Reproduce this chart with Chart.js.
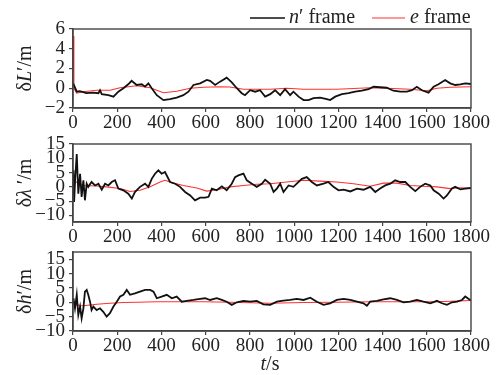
<!DOCTYPE html>
<html><head><meta charset="utf-8">
<script src="https://cdn.jsdelivr.net/npm/chart.js@4.4.0/dist/chart.umd.min.js"></script>
<style>
html,body{margin:0;padding:0;background:#fff;}
#wrap{position:relative;width:497px;height:375px;background:#fff;}
#wrap canvas{position:absolute;left:0;top:0;}
</style></head><body>
<div id="wrap">
<canvas id="c1" width="497" height="375"></canvas>
<canvas id="c2" width="497" height="375"></canvas>
<canvas id="c3" width="497" height="375"></canvas>
</div>
<script>
// ---------- data ----------
const xTicks = [0,200,400,600,800,1000,1200,1400,1600,1800];
const yTicksL = [-2,0,2,4,6];
const yTicksLam = [-10,-5,0,5,10,15];
const yTicksH = [-10,-5,0,5,10,15];

// δL' panel
const tL_n = [0,5,17,30,47,60,90,115,122,130,160,183,205,228,250,265,288,311,326,341,356,379,409,439,469,499,522,545,575,605,620,643,665,695,718,741,763,778,801,824,846,869,892,914,937,959,982,997,1020,1043,1065,1088,1118,1148,1163,1186,1216,1246,1276,1306,1337,1359,1389,1419,1449,1480,1510,1533,1555,1578,1608,1631,1653,1683,1706,1729,1752,1774,1800];
const vL_n = [0.5,0.3,-0.35,-0.3,-0.4,-0.5,-0.45,-0.5,-0.2,-0.6,-0.7,-0.85,-0.35,0,0.4,0.75,0.33,0.4,0.16,0.5,0,-0.7,-1.2,-1.1,-0.95,-0.7,-0.35,0.33,0.5,0.84,0.75,0.33,0.67,1.07,0.6,0,-0.5,-0.7,-0.2,-0.35,-0.2,-0.85,-0.6,-0.2,-0.7,-0.1,-0.7,-0.35,-0.85,-1.2,-1.2,-1.0,-0.95,-1.1,-1.2,-0.85,-0.6,-0.5,-0.35,-0.25,-0.1,0.15,0.1,0.05,-0.25,-0.35,-0.35,-0.2,0.15,-0.2,-0.45,0.15,0.4,0.84,0.5,0.33,0.4,0.5,0.43];
const tL_e = [0,4,17,47,107,167,213,288,349,409,469,530,590,665,710,771,892,967,1043,1193,1344,1419,1525,1600,1646,1706,1800];
const vL_e = [5.3,0,-0.5,-0.35,-0.2,-0.2,0.05,0.25,0.05,-0.45,-0.3,0,0.1,0.15,0.12,-0.1,-0.1,0,-0.1,-0.1,0.05,0,-0.1,-0.25,0,0.1,0.15];

// δλ' panel
const tLam_n = [0,2,5,10,17,24,32,39,47,54,62,69,84,100,115,130,145,160,175,190,205,228,250,266,280,303,326,341,356,371,386,401,416,439,462,484,507,530,552,575,598,613,628,650,673,695,718,733,748,771,786,809,831,854,869,892,907,922,937,952,975,997,1012,1035,1057,1080,1103,1133,1155,1178,1201,1224,1254,1284,1314,1344,1367,1389,1412,1435,1457,1480,1503,1525,1548,1570,1593,1616,1631,1654,1676,1691,1714,1729,1752,1774,1800];
const vLam_n = [0,5.8,-5.3,3,11.5,-2.4,4.6,-3.5,2.3,-4.7,1.1,0,1.7,0.5,1.1,-1,1.1,0.5,1.7,2.3,-0.6,-1.2,-2.4,-4.1,-1.8,0,1.1,0,2.8,4.6,5.8,4.6,5.2,1.7,1.1,0,-1.8,-3,-4.7,-3.8,-3.8,-3.5,-0.6,-1.2,0.2,-1.2,1.1,3.4,4,4.6,2.3,1.1,0,1.1,2.5,1.1,-1.8,-0.6,1.1,-1.8,0.5,0,1.1,2.8,3.4,1.7,0.5,1.1,1.7,0,-1.2,-1,-1.6,-0.6,-1,0,-1.8,-0.6,0.5,1.1,2.3,1.7,1.7,0,-1.5,0,1.1,0.5,-1.2,-2.4,-4.1,-3,-0.6,0,-0.9,-0.6,-0.4];
const tLam_e = [0,8,17,47,107,152,213,258,303,349,394,416,454,499,560,605,650,711,771,831,892,967,1043,1118,1193,1269,1344,1404,1465,1525,1585,1646,1706,1737,1800];
const vLam_e = [0,1.5,1.7,0.5,0.3,0,-0.6,-1.6,-1.2,0,1.7,2.3,1.3,0.5,-0.4,-1.5,-1,0,0.5,0.9,1.1,1.7,2.3,2.0,1.7,1.1,0.2,1.3,1.3,0.5,0.2,0,-0.6,-0.3,-0.4];

// δh' panel
const tH_n = [0,2,9,17,24,32,39,47,54,62,69,77,84,92,107,122,137,152,167,183,198,213,228,243,258,280,303,326,349,364,379,401,424,447,469,492,515,545,575,598,620,650,673,695,718,741,771,801,831,861,892,922,952,982,1012,1043,1073,1103,1133,1163,1193,1224,1254,1284,1314,1329,1344,1374,1404,1435,1465,1495,1525,1555,1585,1616,1646,1669,1691,1714,1737,1759,1774,1800];
const vH_n = [0,1.4,-2.1,2.6,-4.4,-1.5,-5.6,-2.1,3.7,4.3,2.6,0.2,-2.7,-1.5,-2.7,-2.1,-3.3,-5,-3.8,-1.5,0.2,2,2.6,4.3,2.6,3.1,3.7,4.3,4.3,3.7,1.4,2,2.6,1.4,2,0.2,0.5,0.8,1.2,1.4,0.8,1.4,0.8,0.2,-0.9,0,0.5,0.2,0.5,-0.7,-0.9,0.2,0.6,0.8,1.2,0.8,1.6,0.2,-0.9,-0.35,0.8,1.2,0.8,0.2,-0.35,-1.2,0.2,0.5,1.0,1.4,0.8,0,0.2,0.8,0.2,-0.35,0.5,-0.35,-0.9,0,0.2,0.8,2,0.6];
const tH_e = [0,10,17,32,47,107,167,228,288,379,469,590,711,892,1043,1193,1344,1495,1646,1800];
const vH_e = [0,-0.7,-0.9,-1.1,-1.2,-0.7,-0.35,-0.1,0,0.2,0.2,0.2,0,-0.35,-0.1,0,0.2,0.2,0.2,0.6];

// ---------- helpers ----------
const SERIF = '"Liberation Serif", "Times New Roman", serif';
const BLACK = '#111111';
const RED = '#ff3030';
const AXIS = '#444444';

function pts(t, v){ return t.map((x,i)=>({x:x, y:v[i]})); }

function richWidth(ctx, parts, size){
  let w = 0;
  parts.forEach(p=>{ ctx.font = (p.it?'italic ':'') + size + 'px ' + SERIF; w += ctx.measureText(p.t).width; });
  return w;
}
function drawRich(ctx, parts, x, y, size){
  let cx = x;
  parts.forEach(p=>{
    ctx.font = (p.it?'italic ':'') + size + 'px ' + SERIF;
    ctx.fillText(p.t, cx, y);
    cx += ctx.measureText(p.t).width;
  });
  return cx;
}

function framePlugin(yTitle, extra){
  return {
    id: 'frame',
    afterDraw(chart){
      const ctx = chart.ctx, a = chart.chartArea;
      ctx.save();
      ctx.strokeStyle = AXIS; ctx.lineWidth = 1.4;
      ctx.strokeRect(a.left, a.top, a.right - a.left, a.bottom - a.top);
      ctx.fillStyle = '#222';
      ctx.textBaseline = 'middle';
      const size = 20;
      const w = richWidth(ctx, yTitle, size);
      ctx.translate(26, (a.top + a.bottom)/2);
      ctx.rotate(-Math.PI/2);
      drawRich(ctx, yTitle, -w/2, 0, size);
      ctx.restore();
      if (extra) extra(chart);
    }
  };
}

function makeChart(id, tn, vn, te, ve, yMin, yMax, yTicks, padTop, padBottom, yTitle, extra){
  return new Chart(document.getElementById(id), {
    type: 'line',
    data: {
      datasets: [
        { data: pts(te, ve), borderColor: RED, borderWidth: 1.1, pointRadius: 0, tension: 0, order: 2 },
        { data: pts(tn, vn), borderColor: BLACK, borderWidth: 1.8, pointRadius: 0, tension: 0, order: 1 }
      ]
    },
    options: {
      responsive: false, animation: false, events: [],
      layout: { padding: { left: 0, right: 26, top: padTop, bottom: padBottom } },
      plugins: { legend: { display: false }, tooltip: { enabled: false } },
      scales: {
        x: {
          type: 'linear', min: 0, max: 1800,
          afterBuildTicks: s => { s.ticks = xTicks.map(v=>({value:v})); },
          afterFit: s => { s.height = 22; },
          grid: { display: true, drawOnChartArea: false, drawTicks: true, tickLength: 4, color: AXIS, lineWidth: 1.2 },
          border: { display: true, color: AXIS, width: 1.4 },
          ticks: { autoSkip: false, maxRotation: 0, padding: 0, color: '#222', font: { family: SERIF, size: 19 },
                   callback: v => String(v) }
        },
        y: {
          type: 'linear', min: yMin, max: yMax,
          afterBuildTicks: s => { s.ticks = yTicks.map(v=>({value:v})); },
          afterFit: s => { s.width = 73; },
          grid: { display: true, drawOnChartArea: false, drawTicks: true, tickLength: 4, color: AXIS, lineWidth: 1.2 },
          border: { display: true, color: AXIS, width: 1.4 },
          ticks: { autoSkip: false, padding: 4, color: '#222', font: { family: SERIF, size: 19 },
                   callback: v => String(v).replace('-', '\u2212') }
        }
      }
    },
    plugins: [framePlugin(yTitle, extra)]
  });
}

function legend(chart){
  const ctx = chart.ctx;
  ctx.save();
  ctx.textBaseline = 'middle';
  ctx.fillStyle = '#222';
  const y = 18;
  ctx.lineWidth = 1.6; ctx.strokeStyle = BLACK;
  ctx.beginPath(); ctx.moveTo(250, y); ctx.lineTo(285, y); ctx.stroke();
  drawRich(ctx, [{t:'n',it:true},{t:'\u2032 frame',it:false}], 289, y, 20);
  ctx.lineWidth = 1.2; ctx.strokeStyle = RED;
  ctx.beginPath(); ctx.moveTo(372, y); ctx.lineTo(405, y); ctx.stroke();
  drawRich(ctx, [{t:'e',it:true},{t:' frame',it:false}], 410, y, 20);
  ctx.restore();
}
function xTitle(chart){
  const ctx = chart.ctx, a = chart.chartArea;
  ctx.save();
  ctx.textBaseline = 'middle';
  ctx.fillStyle = '#222';
  const parts = [{t:'t',it:true},{t:'/s',it:false}];
  const w = richWidth(ctx, parts, 20);
  drawRich(ctx, parts, (a.left + a.right)/2 - w/2 - 2, 365, 20);
  ctx.restore();
}

makeChart('c1', tL_n, vL_n, tL_e, vL_e, -2, 6, yTicksL, 29, 245,
  [{t:'\u03B4',it:false},{t:'L',it:true},{t:'\u2032/m',it:false}], legend);
makeChart('c2', tLam_n, vLam_n, tLam_e, vLam_e, -12.3, 15, yTicksLam, 144, 131,
  [{t:'\u03B4',it:false},{t:'\u03BB',it:true},{t:' \u2032/m',it:false}], null);
makeChart('c3', tH_n, vH_n, tH_e, vH_e, -10, 17.5, yTicksH, 252, 22,
  [{t:'\u03B4',it:false},{t:'h',it:true},{t:'\u2032/m',it:false}], xTitle);
</script>
</body></html>
